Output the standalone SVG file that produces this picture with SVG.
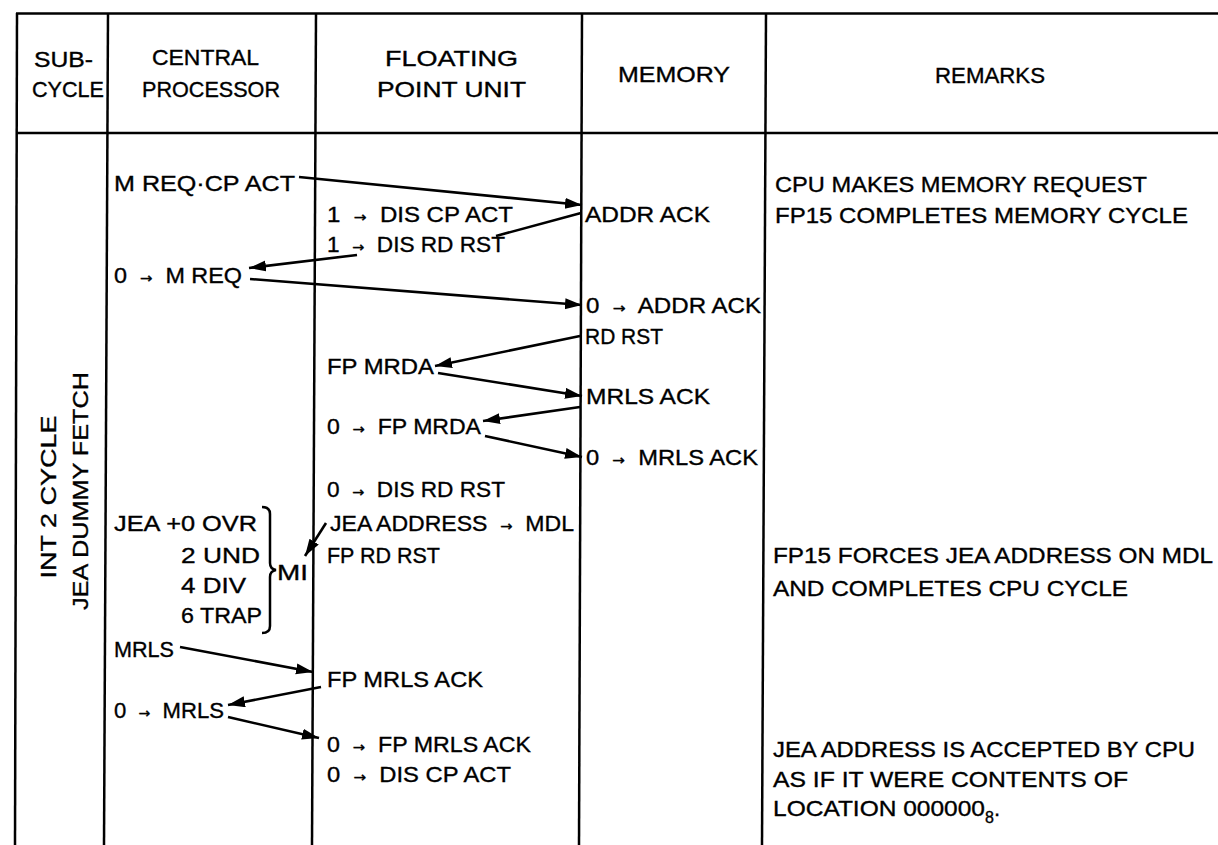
<svg xmlns="http://www.w3.org/2000/svg" width="1218" height="845" viewBox="0 0 1218 845">
<style>
text { font-family: "Liberation Sans", Arial, sans-serif; font-size: 22px; fill: #000; stroke: #000; stroke-width: 0.35; }
.ar { font-family: "DejaVu Sans", sans-serif; font-size: 14px; }
.rule { stroke: #000; stroke-width: 2.5; fill: none; }
.conn { stroke: #000; stroke-width: 2.6; fill: none; }
.arr { marker-end: url(#ah); }
</style>
<defs>
<marker id="ah" markerUnits="userSpaceOnUse" markerWidth="20" markerHeight="13" refX="17" refY="5.5" orient="auto">
<path d="M0,0 L17,5.5 L0,11 z" fill="#000"/>
</marker>
</defs>
<rect width="1218" height="845" fill="#fff"/>

<g id="table">
<line class="rule" x1="16" y1="13.5" x2="1218" y2="13.5"/>
<line class="rule" x1="16" y1="133" x2="1218" y2="133"/>
<line class="rule" x1="17" y1="13" x2="15" y2="845"/>
<line class="rule" x1="108" y1="13" x2="104" y2="845"/>
<line class="rule" x1="316" y1="13" x2="312" y2="845"/>
<line class="rule" x1="582" y1="13" x2="579" y2="845"/>
<line class="rule" x1="766" y1="13" x2="762" y2="845"/>
</g>

<g id="header">
<g id="h-subcycle"><text x="34" y="67" textLength="59" lengthAdjust="spacingAndGlyphs">SUB-</text><text x="32" y="97" textLength="72" lengthAdjust="spacingAndGlyphs">CYCLE</text></g>
<g id="h-cp"><text x="152" y="65" textLength="107" lengthAdjust="spacingAndGlyphs">CENTRAL</text><text x="142" y="97" textLength="138" lengthAdjust="spacingAndGlyphs">PROCESSOR</text></g>
<g id="h-fpu"><text x="385" y="66" textLength="133" lengthAdjust="spacingAndGlyphs">FLOATING</text><text x="377" y="97" textLength="149" lengthAdjust="spacingAndGlyphs">POINT UNIT</text></g>
<g id="h-mem"><text x="618" y="82" textLength="112" lengthAdjust="spacingAndGlyphs">MEMORY</text></g>
<g id="h-rem"><text x="935" y="83" textLength="110" lengthAdjust="spacingAndGlyphs">REMARKS</text></g>
</g>

<g id="subcycle">
<text transform="translate(56,497) rotate(-90)" text-anchor="middle" textLength="163" lengthAdjust="spacingAndGlyphs">INT 2 CYCLE</text>
<text transform="translate(88,491) rotate(-90)" text-anchor="middle" textLength="238" lengthAdjust="spacingAndGlyphs">JEA DUMMY FETCH</text>
</g>

<g id="cp">
<g id="cp-mreq"><text x="114" y="191" textLength="181" lengthAdjust="spacingAndGlyphs">M REQ·CP ACT</text></g>
<g id="cp-0mreq"><text x="114" y="283" textLength="128" lengthAdjust="spacingAndGlyphs">0 &#160;<tspan class="ar">→</tspan>&#160; M REQ</text></g>
<g id="cp-jea">
<text x="114" y="531" textLength="143" lengthAdjust="spacingAndGlyphs">JEA +0 OVR</text>
<text x="181" y="563" textLength="79" lengthAdjust="spacingAndGlyphs">2 UND</text>
<text x="181" y="593" textLength="65" lengthAdjust="spacingAndGlyphs">4 DIV</text>
<text x="181" y="623" textLength="81" lengthAdjust="spacingAndGlyphs">6 TRAP</text>
<path class="rule" stroke-width="2" d="M262,507 Q270,507 270,514 L270,563 Q270,569 276,570 Q270,571 270,577 L270,626 Q270,633 262,633"/>
<text x="277" y="580" textLength="31" lengthAdjust="spacingAndGlyphs">MI</text>
</g>
<g id="cp-mrls"><text x="114" y="657" textLength="60" lengthAdjust="spacingAndGlyphs">MRLS</text></g>
<g id="cp-0mrls"><text x="114" y="718" textLength="110" lengthAdjust="spacingAndGlyphs">0 &#160;<tspan class="ar">→</tspan>&#160; MRLS</text></g>
</g>

<g id="fpu">
<g id="fpu-dis1"><text x="327" y="222" textLength="186" lengthAdjust="spacingAndGlyphs">1 &#160;<tspan class="ar">→</tspan>&#160; DIS CP ACT</text><text x="327" y="252" textLength="178" lengthAdjust="spacingAndGlyphs">1 &#160;<tspan class="ar">→</tspan>&#160; DIS RD RST</text></g>
<g id="fpu-mrda"><text x="327" y="374" textLength="107" lengthAdjust="spacingAndGlyphs">FP MRDA</text></g>
<g id="fpu-0mrda"><text x="327" y="434" textLength="154" lengthAdjust="spacingAndGlyphs">0 &#160;<tspan class="ar">→</tspan>&#160; FP MRDA</text></g>
<g id="fpu-jea">
<text x="327" y="497" textLength="178" lengthAdjust="spacingAndGlyphs">0 &#160;<tspan class="ar">→</tspan>&#160; DIS RD RST</text>
<text x="330" y="531" textLength="244" lengthAdjust="spacingAndGlyphs">JEA ADDRESS &#160;<tspan class="ar">→</tspan>&#160; MDL</text>
<text x="327" y="563" textLength="113" lengthAdjust="spacingAndGlyphs">FP RD RST</text>
</g>
<g id="fpu-mrlsack"><text x="327" y="687" textLength="156" lengthAdjust="spacingAndGlyphs">FP MRLS ACK</text></g>
<g id="fpu-0mrlsack"><text x="327" y="752" textLength="204" lengthAdjust="spacingAndGlyphs">0 &#160;<tspan class="ar">→</tspan>&#160; FP MRLS ACK</text><text x="327" y="782" textLength="184" lengthAdjust="spacingAndGlyphs">0 &#160;<tspan class="ar">→</tspan>&#160; DIS CP ACT</text></g>
</g>

<g id="memory">
<g id="mem-addrack"><text x="585" y="222" textLength="125" lengthAdjust="spacingAndGlyphs">ADDR ACK</text></g>
<g id="mem-0addrack"><text x="586" y="313" textLength="175" lengthAdjust="spacingAndGlyphs">0 &#160;<tspan class="ar">→</tspan>&#160; ADDR ACK</text></g>
<g id="mem-rdrst"><text x="585" y="344" textLength="78" lengthAdjust="spacingAndGlyphs">RD RST</text></g>
<g id="mem-mrlsack"><text x="586" y="404" textLength="124" lengthAdjust="spacingAndGlyphs">MRLS ACK</text></g>
<g id="mem-0mrlsack"><text x="586" y="465" textLength="172" lengthAdjust="spacingAndGlyphs">0 &#160;<tspan class="ar">→</tspan>&#160; MRLS ACK</text></g>
</g>

<g id="remarks">
<g id="rem-1"><text x="775" y="192" textLength="372" lengthAdjust="spacingAndGlyphs">CPU MAKES MEMORY REQUEST</text><text x="775" y="223" textLength="413" lengthAdjust="spacingAndGlyphs">FP15 COMPLETES MEMORY CYCLE</text></g>
<g id="rem-2"><text x="773" y="563" textLength="440" lengthAdjust="spacingAndGlyphs">FP15 FORCES JEA ADDRESS ON MDL</text><text x="773" y="596" textLength="355" lengthAdjust="spacingAndGlyphs">AND COMPLETES CPU CYCLE</text></g>
<g id="rem-3">
<text x="773" y="757" textLength="422" lengthAdjust="spacingAndGlyphs">JEA ADDRESS IS ACCEPTED BY CPU</text>
<text x="773" y="787" textLength="355" lengthAdjust="spacingAndGlyphs">AS IF IT WERE CONTENTS OF</text>
<text x="773" y="816"><tspan textLength="212" lengthAdjust="spacingAndGlyphs">LOCATION 000000</tspan><tspan font-size="16" dy="7">8</tspan><tspan dy="-7">.</tspan></text>
</g>
</g>

<g id="connectors">
<line class="conn arr" x1="299" y1="177" x2="582" y2="205"/>
<line class="conn" x1="581" y1="213" x2="496" y2="236"/>
<line class="conn arr" x1="357" y1="255" x2="249" y2="268"/>
<line class="conn arr" x1="250" y1="279" x2="582" y2="305"/>
<line class="conn arr" x1="580" y1="336" x2="435" y2="366"/>
<line class="conn arr" x1="438" y1="373" x2="582" y2="396"/>
<line class="conn arr" x1="580" y1="407" x2="483" y2="421"/>
<line class="conn arr" x1="485" y1="436" x2="582" y2="457"/>
<line class="conn arr" x1="326" y1="523" x2="305" y2="556"/>
<line class="conn arr" x1="180" y1="647" x2="313" y2="672"/>
<line class="conn arr" x1="321" y1="687" x2="228" y2="705"/>
<line class="conn arr" x1="228" y1="717" x2="319" y2="738"/>
</g>
</svg>
